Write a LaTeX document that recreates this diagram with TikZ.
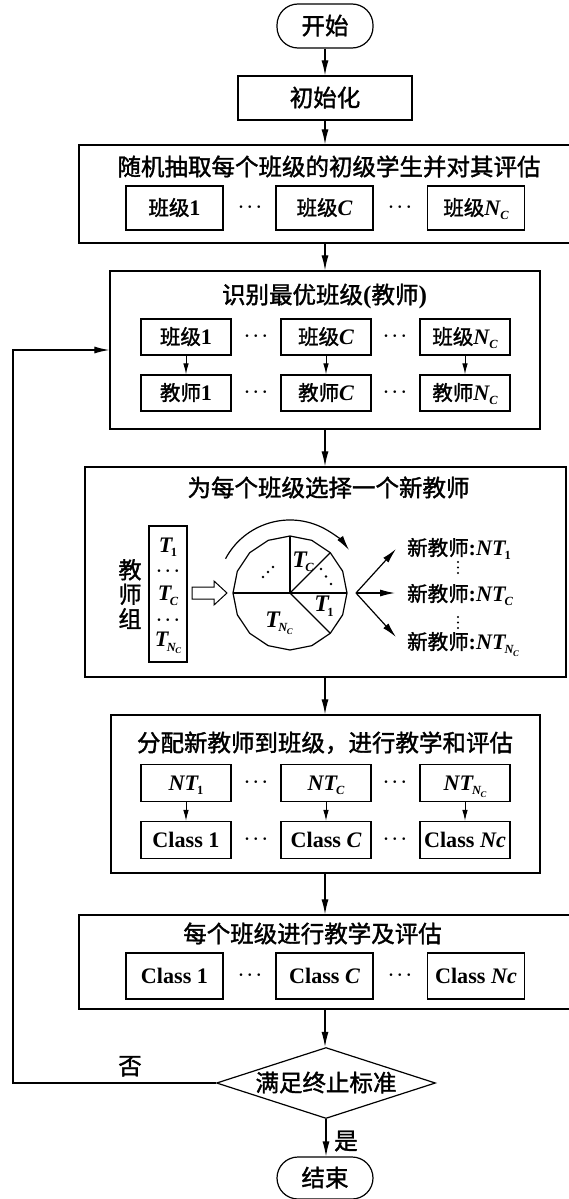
\documentclass[tikz,border=0pt]{standalone}
\usepackage{fontspec}
\setmainfont{Noto Sans CJK SC}[FakeBold=1.5]
\newfontfamily\lat{Liberation Serif}[Scale=1.08]
\usetikzlibrary{arrows.meta,shapes.geometric,calc}
\newcommand{\titlesize}{\fontsize{23.5}{26}\selectfont}
\newcommand{\innersize}{\fontsize{20.5}{24}\selectfont}
\newcommand{\latit}[1]{{\lat\bfseries\itshape #1}}
\newcommand{\latbf}[1]{{\lat\bfseries #1}}
\newcommand{\subup}[1]{\raisebox{-4.5pt}{\fontsize{11.5}{12}\selectfont\lat\bfseries #1}}
\newcommand{\subit}[1]{\raisebox{-4.5pt}{\fontsize{11.5}{12}\selectfont\lat\bfseries\itshape #1}}
\newcommand{\subnc}{\raisebox{-4.5pt}{\fontsize{11.5}{12}\selectfont\lat\bfseries\itshape N\kern-0.5pt\raisebox{-2.5pt}{\fontsize{8}{9}\selectfont C}}}
\newcommand{\hdots}{{\boldmath$\cdots$}}
\begin{document}
\begin{tikzpicture}[x=1pt,y=-1pt,
  ln/.style={line width=1.2pt},
  arr/.style={line width=1.2pt,-{Latex[length=15pt,width=7pt]}},
  sarr/.style={line width=1pt,-{Latex[length=11pt,width=5.5pt]}},
  bigbox/.style={draw,line width=1.3pt,inner sep=0pt},
  ttl/.style={font=\titlesize,inner sep=0pt,text height=19.7pt,text depth=2.8pt},
  proc/.style={draw,line width=1.3pt,inner sep=0pt,font=\titlesize,text height=19.7pt,text depth=2.8pt},
  termnode/.style={draw,line width=1.2pt,rounded corners=21pt,inner sep=0pt,minimum width=96,font=\titlesize,text height=19.7pt,text depth=2.8pt},
  sbox/.style={draw,line width=1.2pt,inner sep=0pt,font=\innersize,text height=17.2pt,text depth=2.5pt},
  itext/.style={inner sep=0pt,font=\innersize,text height=17.2pt,text depth=2.5pt},
  ltext/.style={inner sep=0pt,font=\innersize},
  dotnode/.style={inner sep=0pt,font=\fontsize{17}{20}\selectfont}
]
\fill[white] (0,0) rectangle (569,1199);
\useasboundingbox (0,0) rectangle (569,1199);

% start and init
\node[termnode,minimum height=44] (start) at (325,26) {开始};
\node[proc,minimum width=174,minimum height=44] (init) at (325,98) {初始化};

% box 3
\node[bigbox,minimum width=492,minimum height=98] (b3) at (325,194) {};
\node[ttl] (b3t) at (329,167) {随机抽取每个班级的初级学生并对其评估};
\node[sbox,minimum width=97,minimum height=44] (b3a) at (174.5,208) {班级\latbf{1}};
\node[sbox,minimum width=97,minimum height=44] (b3b) at (324.5,208) {班级\latit{C}};
\node[sbox,minimum width=97,minimum height=44] (b3c) at (476,208) {班级\latit{N}\subit{C}};
\node[dotnode] (b3d1) at (250,207) {\hdots};
\node[dotnode] (b3d2) at (400,207) {\hdots};

% box 4
\node[bigbox,minimum width=430,minimum height=158] (b4) at (325,350) {};
\node[ttl] (b4t) at (324.5,295) {识别最优班级\latbf{(}教师\latbf{)}};
\node[sbox,minimum width=90,minimum height=36] (b4a) at (186,337) {班级\latbf{1}};
\node[sbox,minimum width=90,minimum height=36] (b4b) at (326,337) {班级\latit{C}};
\node[sbox,minimum width=90,minimum height=36] (b4c) at (465,337) {班级\latit{N}\subit{C}};
\node[sbox,minimum width=90,minimum height=36] (b4e) at (186,393) {教师\latbf{1}};
\node[sbox,minimum width=90,minimum height=36] (b4f) at (326,393) {教师\latit{C}};
\node[sbox,minimum width=90,minimum height=36] (b4g) at (465,393) {教师\latit{N}\subit{C}};
\node[dotnode] (b4d1) at (256,336) {\hdots};
\node[dotnode] (b4d2) at (395,336) {\hdots};
\node[dotnode] (b4d3) at (256,392) {\hdots};
\node[dotnode] (b4d4) at (395,392) {\hdots};
\draw[sarr] (b4a) -- (b4e);
\draw[sarr] (b4b) -- (b4f);
\draw[sarr] (b4c) -- (b4g);

% box 5
\node[bigbox,minimum width=481,minimum height=210] (b5) at (325.5,572) {};
\node[ttl] (b5t) at (328.5,488) {为每个班级选择一个新教师};
\node[inner sep=0pt,font=\fontsize{23}{24.5}\selectfont,align=center] (grp) at (130,594) {教\\师\\组};
\node[draw,line width=1.2pt,inner sep=0pt,minimum width=38,minimum height=136] (lst) at (168,594) {};
\node[ltext] (l1) at (168,547) {\latit{T}\kern-1.5pt\subup{1}};
\node[dotnode] (l2) at (168,571) {\hdots};
\node[ltext] (l3) at (168,596) {\latit{T}\kern-1.5pt\subit{C}};
\node[dotnode] (l4) at (168,620) {\hdots};
\node[ltext] (l5) at (168,643) {\latit{T}\kern-1.5pt\subnc};
\draw[line width=1pt] (192,587) -- (214,587) -- (214,581) -- (227,593) -- (214,605) -- (214,599) -- (192,599) -- cycle;

\begin{scope}[shift={(290,593)},yscale=-1]
  \draw[ln] (0:57) \foreach \a in {22.5,45,...,337.5}{ -- (\a:57)} -- cycle;
  \draw[ln] (180:57) -- (0:57);
  \draw[ln] (0,0) -- (90:57);
  \draw[ln] (0,0) -- (45:57);
  \draw[ln] (0,0) -- (-45:57);
  \draw[arr] (152:73) arc[start angle=152,end angle=36,radius=73];
  \node[inner sep=0pt,font=\fontsize{22}{24}\selectfont] (sc) at (13,31) {\latit{T}\kern-1.5pt\subit{C}};
  \node[inner sep=0pt,font=\fontsize{22}{24}\selectfont] (s1) at (34,-13) {\latit{T}\kern-1.5pt\subup{1}};
  \node[inner sep=0pt,font=\fontsize{22}{24}\selectfont] (sn) at (-11,-30) {\latit{T}\kern-1.5pt\subnc};
  \fill (31,24) circle[radius=1.3] (36,16.5) circle[radius=1.3] (41,9) circle[radius=1.3];
  \fill (-27,16) circle[radius=1.3] (-22,21) circle[radius=1.3] (-17,26) circle[radius=1.3];
\end{scope}

\coordinate (fan) at (356,593);
\coordinate (f1) at (396,549);
\coordinate (f2) at (395,593);
\coordinate (f3) at (396,637);
\draw[arr] (fan) -- (f1);
\draw[arr] (fan) -- (f2);
\draw[arr] (fan) -- (f3);
\node[itext,anchor=west] (n1) at (407,548) {新教师\latbf{:}\latit{NT}\kern-1pt\subup{1}};
\node[itext,anchor=west] (n2) at (407,594) {新教师\latbf{:}\latit{NT}\kern-1pt\subit{C}};
\node[itext,anchor=west] (n3) at (407,642) {新教师\latbf{:}\latit{NT}\kern-1pt\subnc};
\fill (458,562) circle[radius=1.2] (458,567.5) circle[radius=1.2] (458,573) circle[radius=1.2];
\fill (458,617) circle[radius=1.2] (458,622.5) circle[radius=1.2] (458,628) circle[radius=1.2];

% box 6
\node[bigbox,minimum width=429,minimum height=158] (b6) at (325.5,794) {};
\node[ttl] (b6t) at (325,743) {分配新教师到班级，进行教学和评估};
\node[sbox,minimum width=90,minimum height=37] (b6a) at (186,783) {\latit{NT}\kern-1pt\subup{1}};
\node[sbox,minimum width=90,minimum height=37] (b6b) at (326,783) {\latit{NT}\kern-1pt\subit{C}};
\node[sbox,minimum width=90,minimum height=37] (b6c) at (465,783) {\latit{NT}\kern-1pt\subnc};
\node[sbox,minimum width=90,minimum height=37] (b6e) at (186,840) {\latbf{Class 1}};
\node[sbox,minimum width=90,minimum height=37] (b6f) at (326,840) {\latbf{Class }\latit{C}};
\node[sbox,minimum width=90,minimum height=37] (b6g) at (465,840) {\latbf{Class }\latit{Nc}};
\node[dotnode] (b6d1) at (256,782) {\hdots};
\node[dotnode] (b6d2) at (395,782) {\hdots};
\node[dotnode] (b6d3) at (256,839) {\hdots};
\node[dotnode] (b6d4) at (395,839) {\hdots};
\draw[sarr] (b6a) -- (b6e);
\draw[sarr] (b6b) -- (b6f);
\draw[sarr] (b6c) -- (b6g);

% box 7
\node[bigbox,minimum width=492,minimum height=94] (b7) at (325,962) {};
\node[ttl] (b7t) at (312.5,934) {每个班级进行教学及评估};
\node[sbox,minimum width=97,minimum height=46] (b7a) at (174.5,976) {\latbf{Class 1}};
\node[sbox,minimum width=97,minimum height=46] (b7b) at (324.5,976) {\latbf{Class }\latit{C}};
\node[sbox,minimum width=97,minimum height=46] (b7c) at (476,976) {\latbf{Class }\latit{Nc}};
\node[dotnode] (b7d1) at (250,975) {\hdots};
\node[dotnode] (b7d2) at (400,975) {\hdots};

% decision and end
\node[draw,diamond,aspect=3.08,line width=1.2pt,inner sep=0pt,minimum width=219,minimum height=71,font=\titlesize,text height=19.7pt,text depth=2.8pt] (dia) at (326,1083) {满足终止标准};
\node[termnode,minimum height=42] (stop) at (325,1178) {结束};
\node[ttl] (no) at (130,1066) {否};
\node[ttl] (yes) at (346,1141) {是};

% main connectors
\draw[arr] (start) -- (init);
\draw[arr] (init) -- (init |- b3.north);
\draw[arr] (b3.south) -- (b3.south |- b4.north);
\draw[arr] (b4.south) -- (b4.south |- b5.north);
\draw[arr] (b4.south |- b5.south) -- (b4.south |- b6.north);
\draw[arr] (b4.south |- b6.south) -- (b4.south |- b7.north);
\draw[arr] (b4.south |- b7.south) -- (b4.south |- dia.north);
\draw[arr] (dia.south) -- (dia.south |- stop.north);
\coordinate (fb) at (13,1083);
\draw[arr] (dia.west) -- (fb) |- (b4.west);
\end{tikzpicture}
\end{document}
